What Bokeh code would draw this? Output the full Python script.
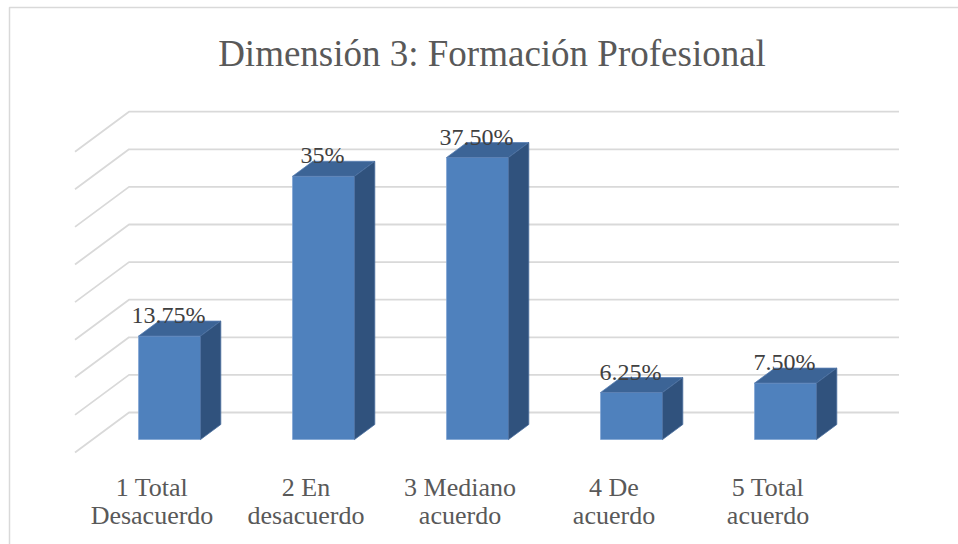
from bokeh.plotting import figure
from bokeh.models import Range1d
from bokeh.core.properties import value
from bokeh.embed import file_html
from bokeh.resources import INLINE

# ---- data ----
title_text = "Dimensión 3: Formación Profesional"
categories = ["1 Total\nDesacuerdo", "2 En\ndesacuerdo", "3 Mediano\nacuerdo",
              "4 De\nacuerdo", "5 Total\nacuerdo"]
values = [13.75, 35.0, 37.5, 6.25, 7.5]
value_labels = ["13.75%", "35%", "37.50%", "6.25%", "7.50%"]
grid_values = [0, 5, 10, 15, 20, 25, 30, 35, 40]

FONT = value("'Liberation Serif', 'Times New Roman', 'DejaVu Serif', serif")

# ---- geometry (oblique 3D projection in data units) ----
W, H = 958, 544
PX_PER_X = 154.0        # pixels per category
PX_PER_Y = 7.52         # pixels per percent
X0_PX = -2.5            # pixel of x = 0
Y0_PX = 452.0           # pixel of value 0 on the front plane
DEPTH_DX = 54.0 / PX_PER_X
DEPTH_DY = 40.0 / PX_PER_Y
D_FRONT, D_BACK = 0.325, 0.70
HALF_W = 31.0 / PX_PER_X
FLOOR_L, FLOOR_R = 0.5, 0.5 + len(categories)


def proj(x, v, d):
    return x + d * DEPTH_DX, v + d * DEPTH_DY


p = figure(width=W, height=H, output_backend="svg", toolbar_location=None,
           x_axis_location=None, y_axis_location=None, min_border=0,
           x_range=Range1d((0 - X0_PX) / PX_PER_X, (W - X0_PX) / PX_PER_X),
           y_range=Range1d((Y0_PX - H) / PX_PER_Y, Y0_PX / PX_PER_Y))
p.grid.visible = False
p.outline_line_color = None
p.background_fill_color = "white"
p.border_fill_color = "white"

# chart border (left/top visible)
bx = (9 - X0_PX) / PX_PER_X
by = (Y0_PX - 7) / PX_PER_Y
p.quad(left=[bx], right=[20], top=[by], bottom=[-100], fill_color=None,
       line_color="#D9D9D9", line_width=1.5)

# gridlines: side wall diagonal + back wall horizontal
gx, gy = [], []
for g in grid_values:
    a = proj(FLOOR_L, g, 0)
    b = proj(FLOOR_L, g, 1)
    c = proj(FLOOR_R, g, 1)
    gx.append([a[0], b[0], c[0]])
    gy.append([a[1], b[1], c[1]])
p.multi_line(xs=gx, ys=gy, line_color="#D9D9D9", line_width=1.8)

# bars
front_l, front_r, front_b, front_t = [], [], [], []
top_xs, top_ys, side_xs, side_ys = [], [], [], []
lab_x, lab_y = [], []
for i, v in enumerate(values):
    xc = i + 1
    lf = proj(xc - HALF_W, 0, D_FRONT)
    rf = proj(xc + HALF_W, 0, D_FRONT)
    ltf = proj(xc - HALF_W, v, D_FRONT)
    rtf = proj(xc + HALF_W, v, D_FRONT)
    rb = proj(xc + HALF_W, 0, D_BACK)
    rtb = proj(xc + HALF_W, v, D_BACK)
    ltb = proj(xc - HALF_W, v, D_BACK)
    front_l.append(lf[0]); front_r.append(rf[0])
    front_b.append(lf[1]); front_t.append(ltf[1])
    top_xs.append([ltf[0], rtf[0], rtb[0], ltb[0]])
    top_ys.append([ltf[1], rtf[1], rtb[1], ltb[1]])
    side_xs.append([rf[0], rb[0], rtb[0], rtf[0]])
    side_ys.append([rf[1], rb[1], rtb[1], rtf[1]])
    cx = proj(xc, v, D_FRONT)
    lab_x.append(cx[0] - 1.0 / PX_PER_X)
    lab_y.append(cx[1] + 21.0 / PX_PER_Y)

p.quad(left=front_l, right=front_r, bottom=front_b, top=front_t,
       fill_color="#4F81BD", line_color="#7FA4D3", line_width=0.8)
p.patches(xs=top_xs, ys=top_ys, fill_color="#3C6496", line_color="#5A80B4",
          line_width=0.8)
p.patches(xs=side_xs, ys=side_ys, fill_color="#30527D", line_color="#4A6E9E",
          line_width=0.8)

# value labels
p.text(x=lab_x, y=lab_y, text=value_labels, text_align="center",
       text_baseline="middle", text_font=FONT,
       text_font_size="24px", text_color="#404040")

# category labels (two lines)
line1 = [c.split("\n")[0] for c in categories]
line2 = [c.split("\n")[1] for c in categories]
cat_x = [i + 1 for i in range(len(categories))]
p.text(x=cat_x, y=[(Y0_PX - 486.5) / PX_PER_Y] * len(cat_x), text=line1,
       text_align="center", text_baseline="middle",
       text_font=FONT, text_font_size="26px", text_color="#595959")
p.text(x=cat_x, y=[(Y0_PX - 515.0) / PX_PER_Y] * len(cat_x), text=line2,
       text_align="center", text_baseline="middle",
       text_font=FONT, text_font_size="26px", text_color="#595959")

# title
p.text(x=[(491.5 - X0_PX) / PX_PER_X], y=[(Y0_PX - 52.5) / PX_PER_Y],
       text=[title_text], text_align="center", text_baseline="middle",
       text_font=FONT, text_font_size="37px", text_color="#595959")

open("out.html", "w").write(file_html(p, INLINE))
